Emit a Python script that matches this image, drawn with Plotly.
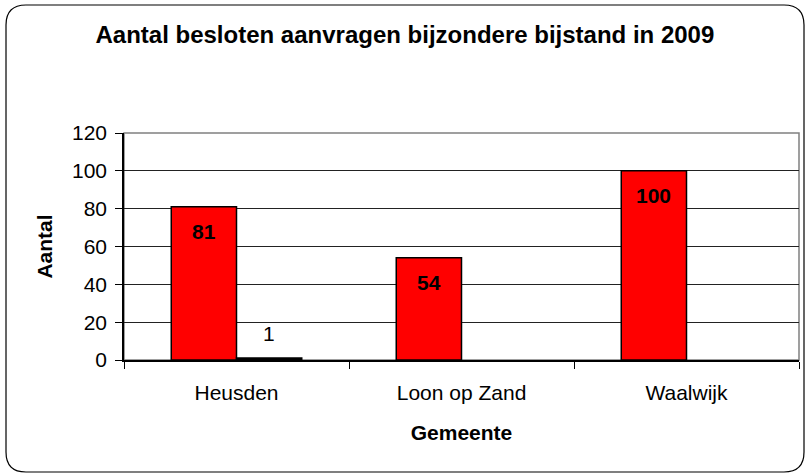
import plotly.graph_objects as go

categories = ["Heusden", "Loon op Zand", "Waalwijk"]
series_a = [81, 54, 100]
series_b = [1, 0, 0]
y_ticks = [0, 20, 40, 60, 80, 100, 120]

W, H = 805, 473
ML, MR, MT, MB = 124, 6, 133, 113
PW, PH = W - ML - MR, H - MT - MB
FONT = "Liberation Sans, Arial, sans-serif"
FS = 21

fig = go.Figure()
fig.add_trace(go.Bar(x=categories, y=series_a, marker=dict(color="#FF0000", line=dict(color="#000000", width=1.5)),
                     showlegend=False, hoverinfo="skip"))
fig.add_trace(go.Bar(x=categories, y=series_b,
                     marker=dict(color="#000000", line=dict(color="#000000", width=[1.5 if v else 0 for v in series_b])),
                     showlegend=False, hoverinfo="skip"))

annotations = []
for c, v in zip(categories, series_a):
    annotations.append(dict(x=c, y=v, xref="x", yref="y", text=f"<b>{v}</b>", showarrow=False,
                            xshift=-PW / 3 * (1 - 0.42) / 4, yshift=-25,
                            font=dict(family=FONT, size=FS, color="#000000")))
for c, v in zip(categories, series_b):
    if v:
        annotations.append(dict(x=c, y=v, xref="x", yref="y", text=str(v), showarrow=False,
                                xshift=PW / 3 * (1 - 0.42) / 4, yshift=25,
                                font=dict(family=FONT, size=FS, color="#000000")))

def px2paper(px, py):
    return (px - ML) / PW, (H - MB - py) / PH

x0, y0, x1, y1, r = 6, 5, 804, 472, 20
def P(px, py):
    a, b = px2paper(px, py)
    return f"{a:.5f},{b:.5f}"
path = (f"M {P(x0 + r, y0)} L {P(x1 - r, y0)} Q {P(x1, y0)} {P(x1, y0 + r)} "
        f"L {P(x1, y1 - r)} Q {P(x1, y1)} {P(x1 - r, y1)} "
        f"L {P(x0 + r, y1)} Q {P(x0, y1)} {P(x0, y1 - r)} "
        f"L {P(x0, y0 + r)} Q {P(x0, y0)} {P(x0 + r, y0)} Z")

shapes = [
    dict(type="path", path=path, xref="paper", yref="paper", line=dict(color="#000000", width=1.2), layer="below"),
    dict(type="rect", x0=0, x1=1, y0=0, y1=1, xref="paper", yref="paper", line=dict(color="#808080", width=1.5), layer="below"),
]

fig.update_layout(
    width=W, height=H,
    margin=dict(l=ML, r=MR, t=MT, b=MB, autoexpand=False),
    paper_bgcolor="#FFFFFF", plot_bgcolor="#FFFFFF",
    barmode="group", bargap=0.42, bargroupgap=0,
    font=dict(family=FONT, size=FS, color="#000000"),
    title=dict(text="<b>Aantal besloten aanvragen bijzondere bijstand in 2009</b>",
               x=0.503, xanchor="center", xref="container",
               y=1 - 35 / H, yanchor="middle", yref="container",
               font=dict(family=FONT, size=24, color="#000000")),
    xaxis=dict(type="category", showgrid=False, showline=True, linecolor="#000000", linewidth=1.5,
               ticks="outside", tickson="boundaries", ticklen=7, tickcolor="#000000",
               ticklabelstandoff=13,
               title=dict(text="<b>Gemeente</b>", standoff=22, font=dict(family=FONT, size=FS))),
    yaxis=dict(range=[0, 120], tickvals=y_ticks, showgrid=True, gridcolor="#222222", gridwidth=1,
               showline=True, linecolor="#000000", linewidth=1.5, zeroline=False,
               ticks="outside", ticklen=7, tickcolor="#000000",
               ticklabelstandoff=4,
               title=dict(text="<b>Aantal</b>", standoff=14, font=dict(family=FONT, size=FS))),
    shapes=shapes,
    annotations=annotations,
)

fig.write_html("out.html", config={"displayModeBar": False},
               post_script="document.body.style.margin='0';document.body.style.padding='0';")
